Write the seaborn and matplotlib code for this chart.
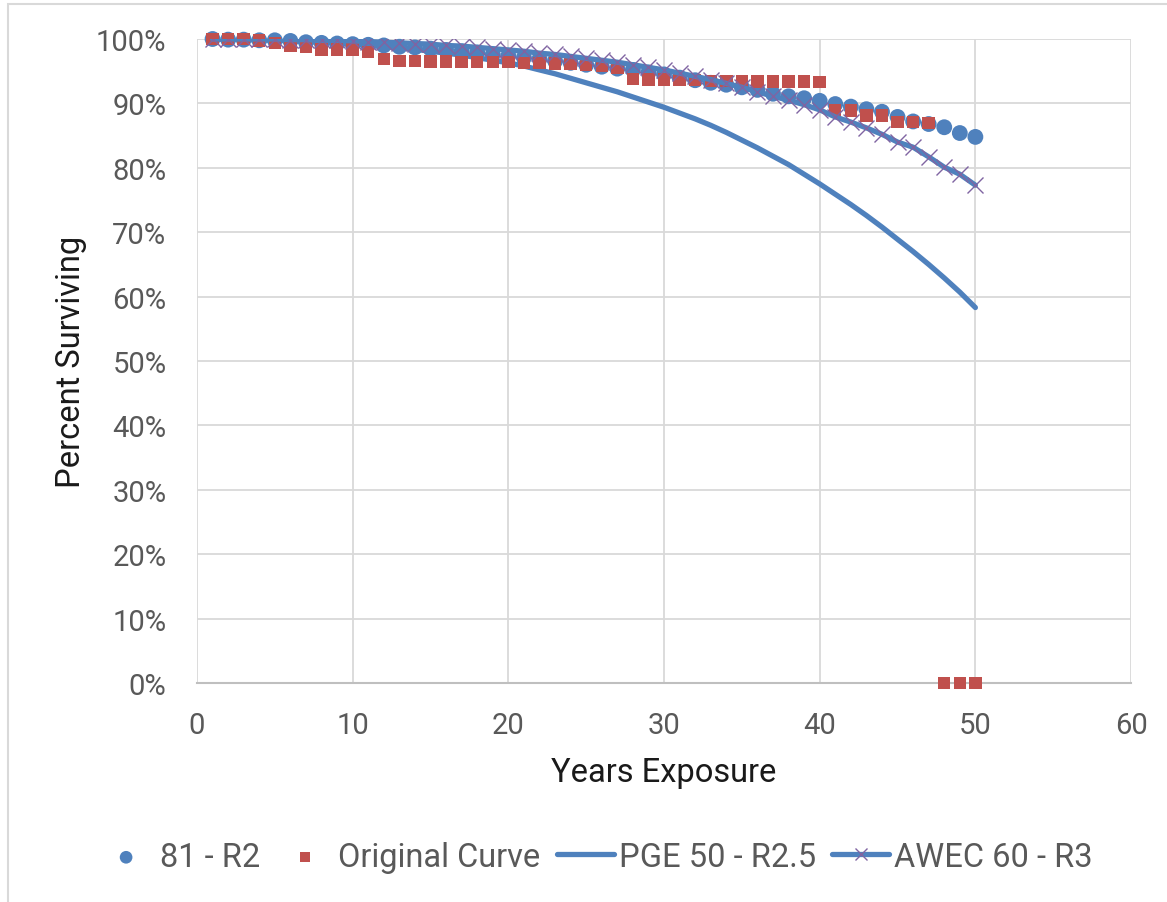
import matplotlib
matplotlib.use("Agg")
import matplotlib.pyplot as plt
import matplotlib.patches as mpatches
from matplotlib.ticker import PercentFormatter, MultipleLocator
import pandas as pd
import seaborn as sns

# Dados (percentual sobrevivente por ano de exposicao)
years = list(range(1, 51))

r2_81 = [100.0, 99.9, 99.9, 99.8, 99.8, 99.7, 99.5, 99.4, 99.3, 99.2,
         99.1, 99.0, 98.8, 98.7, 98.5, 98.3, 98.1, 97.9, 97.6, 97.4,
         97.1, 96.9, 96.6, 96.3, 96.0, 95.7, 95.4, 95.2, 94.8, 94.5,
         94.0, 93.6, 93.2, 92.9, 92.5, 92.1, 91.5, 91.1, 90.8, 90.4,
         89.9, 89.5, 89.1, 88.7, 87.9, 87.2, 86.8, 86.3, 85.4, 84.8]

original = [100.0, 100.0, 100.0, 99.8, 99.4, 98.9, 98.8, 98.4, 98.4, 98.4,
            98.0, 96.9, 96.6, 96.6, 96.5, 96.5, 96.4, 96.4, 96.4, 96.4,
            96.3, 96.3, 96.2, 96.1, 96.0, 95.9, 95.6, 93.8, 93.7, 93.7,
            93.6, 93.6, 93.5, 93.5, 93.4, 93.4, 93.4, 93.4, 93.4, 93.3,
            88.9, 88.9, 88.1, 88.1, 87.1, 87.1, 87.0, 0.0, 0.0, 0.0]

pge_50 = [100.0, 99.95, 99.9, 99.85, 99.8, 99.7, 99.6, 99.5, 99.35, 99.2,
          99.0, 98.8, 98.6, 98.4, 98.1, 97.8, 97.5, 97.1, 96.7, 96.3,
          95.8, 95.2, 94.6, 93.9, 93.2, 92.5, 91.8, 91.0, 90.2, 89.4,
          88.5, 87.6, 86.6, 85.5, 84.3, 83.1, 81.8, 80.5, 79.0, 77.5,
          75.9, 74.3, 72.6, 70.8, 68.9, 67.0, 65.0, 62.9, 60.7, 58.3]

awec_60 = [100.0, 100.0, 100.0, 100.0, 100.0, 99.9, 99.9, 99.8, 99.8, 99.7,
           99.6, 99.5, 99.4, 99.3, 99.2, 99.0, 98.9, 98.7, 98.5, 98.3,
           98.1, 97.8, 97.6, 97.3, 97.0, 96.7, 96.4, 96.0, 95.6, 95.2,
           94.7, 94.2, 93.7, 93.1, 92.5, 91.8, 91.1, 90.5, 89.8, 89.0,
           87.9, 87.1, 86.2, 85.2, 84.0, 83.2, 81.7, 80.1, 79.0, 77.3]

df = pd.DataFrame({"Years": years, "R2": r2_81, "Original": original,
                   "PGE": pge_50, "AWEC": awec_60})

BLUE = "#4f81bd"
RED = "#c0504d"
PURPLE = "#8064a2"
GRID = "#d9d9d9"
TICK = "#595959"

sns.set_style("white")
plt.rcParams["font.family"] = ["Roboto", "DejaVu Sans"]

fig = plt.figure(figsize=(11.67, 9.03), dpi=100)
ax = fig.add_axes([0.1688, 0.2425, 0.9692 - 0.1688, 0.9557 - 0.2425])

# Linhas primeiro, marcadores por cima
sns.lineplot(x="Years", y="PGE", data=df, ax=ax, color=BLUE, linewidth=3.8,
             label="PGE 50 - R2.5", legend=False, zorder=2)
sns.lineplot(x="Years", y="AWEC", data=df, ax=ax, color=BLUE, linewidth=3.8,
             marker="x", markersize=11, markeredgecolor=PURPLE,
             markeredgewidth=1.0, label="AWEC 60 - R3", legend=False, zorder=5)
sns.scatterplot(x="Years", y="R2", data=df, ax=ax, color=BLUE, s=130,
                edgecolor="none", label="81 - R2", legend=False, zorder=3,
                clip_on=False)
sns.scatterplot(x="Years", y="Original", data=df, ax=ax, color=RED, s=80,
                marker="s", edgecolor="none", label="Original Curve",
                legend=False, zorder=4, clip_on=False)

ax.set_xlim(0, 60)
ax.set_ylim(0, 100)
ax.xaxis.set_major_locator(MultipleLocator(10))
ax.yaxis.set_major_locator(MultipleLocator(10))
ax.yaxis.set_major_formatter(PercentFormatter(xmax=100, decimals=0))
ax.grid(True, color=GRID, linewidth=1.3, zorder=0)
ax.set_axisbelow(True)
for side in ["top", "right", "left"]:
    ax.spines[side].set_visible(False)
ax.spines["bottom"].set_color("#bfbfbf")
ax.spines["bottom"].set_linewidth(1.5)
ax.tick_params(axis="both", length=0, labelsize=21, labelcolor=TICK)
ax.tick_params(axis="y", pad=22)
ax.tick_params(axis="x", pad=20)

ax.set_xlabel("Years Exposure", fontsize=23.5, color="#1a1a1a")
ax.set_ylabel("Percent Surviving", fontsize=23.5, color="#1a1a1a")
ax.xaxis.set_label_coords(0.5, -0.138)
ax.xaxis.label.set_va("center")
ax.yaxis.set_label_coords(-0.135, 0.5)
ax.yaxis.label.set_va("center")

# Legenda na parte de baixo
handles, labels = ax.get_legend_handles_labels()
order = [labels.index(n) for n in ["81 - R2", "Original Curve", "PGE 50 - R2.5", "AWEC 60 - R3"]]
fig.legend([handles[i] for i in order], [labels[i] for i in order],
           loc="center", bbox_to_anchor=(0.51, 0.05), ncol=4, frameon=False,
           fontsize=23.5, labelcolor=TICK, handlelength=1.75,
           handletextpad=0.15, columnspacing=0.5, markerscale=0.8)

# Borda clara do grafico (cortada a direita e embaixo)
fig.patches.append(mpatches.Rectangle((8 / 1167, -0.1), 1.2, 1.1 - 5 / 903,
                                      transform=fig.transFigure, fill=False,
                                      edgecolor=GRID, linewidth=1.5))

fig.savefig("out.png", dpi=100)
